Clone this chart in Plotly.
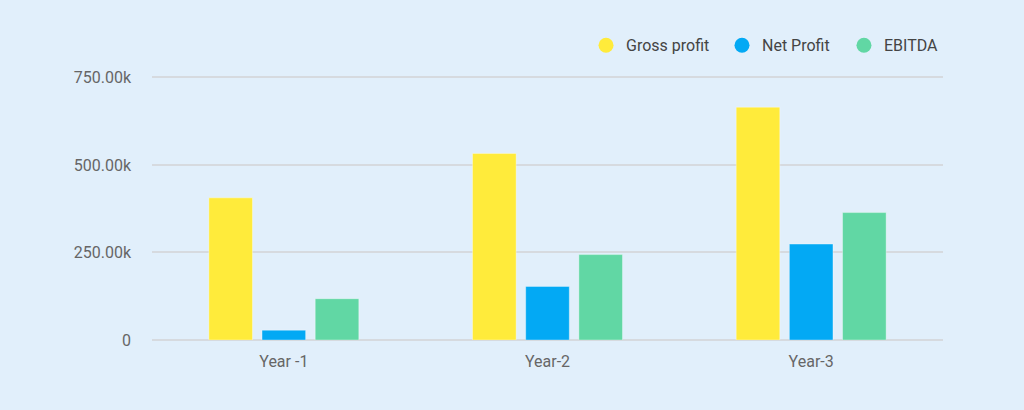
import plotly.graph_objects as go

categories = ["Year -1", "Year-2", "Year-3"]
series_names = ["Gross profit", "Net Profit", "EBITDA"]
gross_profit = [406000, 533000, 665000]
net_profit = [28000, 153000, 274000]
ebitda = [118000, 244000, 364000]
tick_values = [0, 250000, 500000, 750000]
tick_labels = ["0", "250.00k", "500.00k", "750.00k"]

colors = ["#FFEB3B", "#03A9F4", "#61D7A4"]
bg = "#E1EFFB"
legend_ids = ["legend", "legend2", "legend3"]
legend_x = [0.5487, 0.7206, 0.8748]

fig = go.Figure()
for name, vals, col in zip(series_names, [gross_profit, net_profit, ebitda], colors):
    fig.add_trace(go.Bar(
        x=categories, y=vals, name=name, showlegend=False,
        marker=dict(color=col, line=dict(color="rgba(255,255,255,0.35)", width=1)),
    ))
for name, col, lid in zip(series_names, colors, legend_ids):
    fig.add_trace(go.Scatter(
        x=[None], y=[None], mode="markers", name=name, legend=lid,
        marker=dict(color=col, size=15, symbol="circle"),
    ))

legend_style = dict(orientation="h", xanchor="left", y=1.112, yanchor="middle",
                    font=dict(family="Roboto", size=16, color="#444444"),
                    bgcolor="rgba(0,0,0,0)", itemwidth=30)

fig.update_layout(
    width=1024, height=410,
    paper_bgcolor=bg, plot_bgcolor=bg,
    margin=dict(l=152, r=81, t=75, b=70),
    barmode="group", bargap=0.395, bargroupgap=0.18,
    font=dict(family="Roboto", size=16, color="#666666"),
    legend=dict(x=legend_x[0], **legend_style),
    legend2=dict(x=legend_x[1], **legend_style),
    legend3=dict(x=legend_x[2], **legend_style),
    xaxis=dict(showgrid=False, showline=False, zeroline=False, ticks="",
               ticklabelstandoff=10, tickfont=dict(size=16, color="#666666")),
    yaxis=dict(range=[0, 757000], tickvals=tick_values, ticktext=tick_labels,
               showgrid=True, gridcolor="#D6DADF", gridwidth=1.5,
               zeroline=True, zerolinecolor="#D6DADF", zerolinewidth=1.5,
               showline=False, ticks="", ticklabelstandoff=20,
               tickfont=dict(size=16, color="#666666")),
)

fig.write_html("out.html", config={"displayModeBar": False},
               post_script="document.body.style.margin='0';document.body.style.background='%s';" % bg)
